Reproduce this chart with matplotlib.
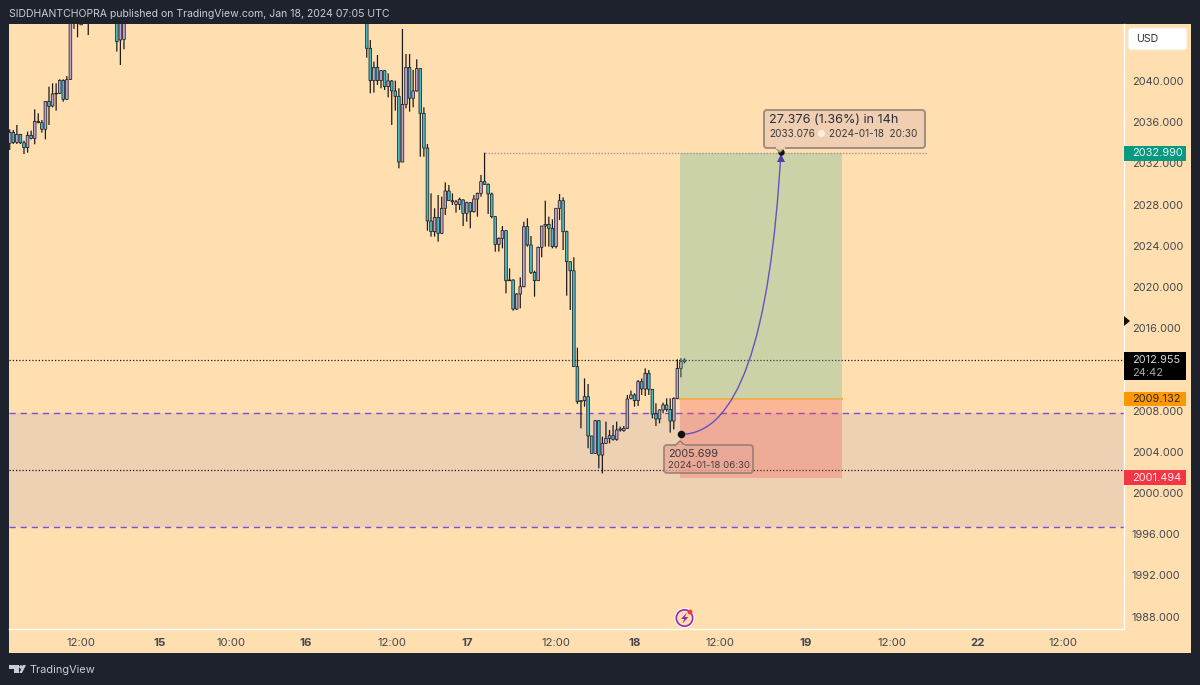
"""Gold 30 minute chart with trade idea, TradingView snapshot style."""

import matplotlib
matplotlib.use("Agg")
import matplotlib.pyplot as plt
from matplotlib.patches import Rectangle, FancyBboxPatch, Polygon, PathPatch, Circle
from matplotlib.path import Path

plt.rcParams["font.family"] = ["Inter", "DejaVu Sans"]

W, H = 1200, 685
PANEL = "#FFDFB0"
DARK = "#1E222D"
TEXT = "#434651"
UP = "#BBA3D6"
DOWN = "#45BCCB"

# candles, bars 33 to 99 are above the visible range so they are left out
bar_index = list(range(0, 21)) + [22, 30, 31, 32] + list(range(100, 190))

opens = [
    2033.95, 2035.01, 2034.04, 2034.82, 2034.00, 2033.53, 2034.72, 2034.43, 2035.95, 2035.95,
    2035.31, 2038.02, 2037.57, 2038.74, 2038.80, 2040.06, 2038.22, 2040.16, 2047.00, 2047.00,
    2046.00, 2047.00, 2047.00, 2043.98, 2044.04,
    2047.00, 2043.17, 2040.03, 2041.32, 2040.03, 2041.00, 2039.45, 2040.00, 2039.03, 2038.51,
    2032.13, 2037.73, 2041.32, 2038.32, 2039.03, 2041.20, 2036.86, 2033.49, 2026.41, 2025.37,
    2026.76, 2025.21, 2027.64, 2029.32, 2028.38, 2028.02, 2028.02, 2028.45, 2027.15, 2028.19,
    2027.31, 2028.54, 2029.09, 2030.23, 2029.97, 2029.03, 2026.83, 2024.14, 2024.72, 2025.47,
    2020.61, 2020.68, 2017.86, 2019.32, 2020.03, 2025.86, 2024.08, 2021.42, 2020.61, 2023.85,
    2025.92, 2026.08, 2025.70, 2023.92, 2027.64, 2028.38, 2025.37, 2022.46, 2021.58, 2012.27,
    2008.87, 2008.97, 2009.35, 2005.54, 2003.85, 2007.02, 2003.69, 2004.82, 2005.31, 2005.57,
    2005.21, 2006.12, 2006.05, 2006.28, 2009.19, 2009.52, 2008.97, 2010.81, 2010.10, 2011.62,
    2010.07, 2007.67, 2007.19, 2008.06, 2008.55, 2008.12, 2006.99, 2009.19, 2012.10, 2012.75,
]
highs = [
    2035.30, 2035.24, 2035.73, 2034.82, 2034.20, 2035.08, 2035.18, 2037.25, 2036.86, 2036.21,
    2038.02, 2039.45, 2039.77, 2039.77, 2040.16, 2040.16, 2040.48, 2048.00, 2048.00, 2047.00,
    2047.00, 2048.00, 2048.00, 2047.00, 2047.00,
    2048.00, 2043.98, 2041.88, 2042.52, 2041.07, 2041.07, 2040.74, 2040.09, 2040.03, 2039.29,
    2045.05, 2042.62, 2042.62, 2041.07, 2042.10, 2041.20, 2037.44, 2033.88, 2029.09, 2027.64,
    2028.93, 2028.77, 2030.16, 2029.90, 2029.09, 2028.45, 2028.67, 2028.51, 2028.28, 2028.19,
    2028.93, 2029.16, 2030.87, 2033.04, 2030.06, 2029.16, 2026.83, 2024.82, 2025.92, 2025.53,
    2021.81, 2020.74, 2019.39, 2020.94, 2026.34, 2026.67, 2024.95, 2021.58, 2023.92, 2025.92,
    2028.38, 2026.83, 2026.57, 2027.64, 2029.03, 2028.70, 2025.47, 2022.46, 2022.88, 2014.11,
    2009.00, 2011.13, 2010.58, 2005.54, 2007.09, 2007.09, 2005.47, 2006.93, 2006.12, 2006.60,
    2006.93, 2006.44, 2006.51, 2009.52, 2009.94, 2009.68, 2010.97, 2011.13, 2012.10, 2011.94,
    2010.07, 2008.71, 2008.12, 2008.77, 2009.19, 2009.19, 2009.29, 2012.98, 2013.08, 2013.08,
]
lows = [
    2033.30, 2033.88, 2033.88, 2033.88, 2032.91, 2033.04, 2034.33, 2033.85, 2035.89, 2034.98,
    2034.33, 2035.73, 2037.44, 2037.12, 2038.74, 2037.99, 2038.15, 2040.10, 2045.05, 2044.24,
    2045.43, 2044.46, 2042.85, 2041.55, 2043.07,
    2042.26, 2038.80, 2038.87, 2039.61, 2039.29, 2039.12, 2038.41, 2035.73, 2037.12, 2031.52,
    2032.13, 2037.34, 2037.02, 2037.44, 2038.96, 2032.65, 2032.65, 2025.47, 2024.89, 2024.89,
    2024.40, 2025.15, 2026.99, 2028.38, 2027.96, 2027.22, 2027.48, 2025.92, 2026.34, 2025.70,
    2027.22, 2026.83, 2028.77, 2029.90, 2027.09, 2026.67, 2023.43, 2023.43, 2023.75, 2019.39,
    2020.61, 2017.70, 2017.77, 2017.93, 2019.97, 2023.92, 2021.26, 2019.06, 2020.61, 2022.88,
    2023.92, 2023.92, 2023.75, 2023.75, 2026.50, 2023.59, 2019.16, 2017.77, 2012.27, 2008.64,
    2006.28, 2008.38, 2004.34, 2003.85, 2003.79, 2002.40, 2001.91, 2004.76, 2004.82, 2005.08,
    2005.08, 2005.96, 2005.96, 2006.22, 2009.09, 2008.38, 2008.45, 2009.52, 2009.42, 2009.52,
    2007.25, 2006.51, 2006.77, 2007.74, 2007.90, 2005.86, 2006.18, 2009.10, 2011.23, 2012.59,
]
closes = [
    2035.01, 2034.04, 2034.82, 2034.00, 2033.53, 2034.72, 2034.43, 2036.08, 2036.08, 2035.31,
    2038.02, 2037.54, 2038.74, 2038.80, 2040.06, 2038.22, 2040.13, 2047.00, 2046.80, 2046.50,
    2045.45, 2046.50, 2043.82, 2046.00, 2046.00,
    2043.17, 2040.03, 2041.32, 2040.03, 2041.00, 2039.45, 2040.00, 2039.03, 2038.51, 2032.13,
    2037.73, 2041.32, 2038.32, 2039.03, 2041.20, 2036.86, 2033.49, 2026.41, 2025.37, 2026.76,
    2025.21, 2027.64, 2029.32, 2028.38, 2028.28, 2028.28, 2028.51, 2027.15, 2028.19, 2027.31,
    2028.54, 2029.09, 2030.23, 2029.97, 2029.03, 2026.83, 2024.14, 2024.72, 2025.47, 2020.61,
    2020.68, 2017.86, 2019.32, 2020.03, 2025.86, 2024.08, 2021.42, 2020.61, 2023.85, 2025.92,
    2026.08, 2025.70, 2023.92, 2027.64, 2028.38, 2025.37, 2022.46, 2021.58, 2012.27, 2008.87,
    2008.97, 2009.35, 2005.54, 2003.85, 2007.02, 2003.69, 2004.82, 2005.31, 2005.57, 2005.21,
    2006.12, 2006.22, 2006.28, 2009.13, 2009.52, 2008.97, 2010.81, 2010.10, 2011.62, 2010.07,
    2007.67, 2007.19, 2008.06, 2008.55, 2008.12, 2006.99, 2009.19, 2012.10, 2012.75, 2012.91,
]

price_ticks = [1988, 1992, 1996, 2000, 2004, 2008, 2012, 2016, 2020, 2024, 2028, 2032, 2036, 2040]
time_bars = [20, 42, 62, 83, 107, 128, 153, 175, 199, 223, 247, 271, 295]
time_labels = ["12:00", "15", "10:00", "16", "12:00", "17", "12:00", "18", "12:00", "19", "12:00", "22", "12:00"]
day_labels = ["15", "16", "17", "18", "19", "22"]

# levels and the trade box
last_price = 2012.955
take_profit = 2032.990
entry = 2009.132
stop_loss = 2001.494
zone_top = 2007.80
zone_bottom = 1996.70
support_level = 2002.25
swing_high = 2033.04
box_start, box_end = 187.8, 233.1
swing_bar, swing_line_end = 133, 257.3

# projected path
path_bars = [188, 211.6, 216]
path_prices = [2005.699, 2005.70, 2033.076]

fig = plt.figure(figsize=(W / 100, H / 100), dpi=100, facecolor=DARK)

# scale and time strip background, the chart axes draw over it
fig.patches.append(Rectangle((9 / W, 1 - 653 / H), 1182 / W, 629 / H, transform=fig.transFigure,
                             facecolor=PANEL, edgecolor="none", zorder=-1))

ax = fig.add_axes([9 / W, 1 - 629 / H, 1115 / W, 605 / H], facecolor=PANEL)
ax.set_xlim(-0.2, 312.1)
ax.set_ylim(1986.80, 2045.53)

for side in ("top", "left"):
    ax.spines[side].set_visible(False)
for side in ("right", "bottom"):
    ax.spines[side].set_color("white")
    ax.spines[side].set_linewidth(1)

# zone and levels sit under the candles
ax.axhspan(zone_bottom, zone_top, color="#AA94C4", alpha=0.2, lw=0, zorder=1)
for level in (zone_top, zone_bottom):
    ax.axhline(level, color="#7B4FD8", lw=1, dashes=(4.5, 3.5), zorder=1.5)
for level in (last_price, support_level):
    ax.axhline(level, color="#1a1a1a", lw=0.9, dashes=(1, 1.6), zorder=1.5)
ax.plot([swing_bar, swing_line_end], [swing_high, swing_high], color="#BE85A8", lw=1.0,
        dashes=(1, 1.2), zorder=1.5)

# candles
wick_lines = ax.vlines(bar_index, lows, highs, color="#1c1c1c", lw=0.9, zorder=2)
wick_lines.set_snap(False)
bottoms = [min(o, c) for o, c in zip(opens, closes)]
heights = [abs(o - c) for o, c in zip(opens, closes)]
colours = [UP if c >= o else DOWN for o, c in zip(opens, closes)]
bodies = ax.bar(bar_index, heights, bottom=bottoms, width=0.74, color=colours,
                edgecolor="#1c1c1c", linewidth=0.55, zorder=3)
for body in bodies:
    body.set_snap(False)

# trade box goes over the candles
ax.add_patch(Rectangle((box_start, entry), box_end - box_start, take_profit - entry,
                       facecolor="#58B495", alpha=0.3, lw=0, zorder=4))
ax.add_patch(Rectangle((box_start, stop_loss), box_end - box_start, entry - stop_loss,
                       facecolor="#EE4D50", alpha=0.28, lw=0, zorder=4))
ax.plot([box_start, box_end], [entry, entry], color="#F0B050", lw=1.4, zorder=4.2)

curve = Path(list(zip(path_bars, path_prices)), [Path.MOVETO, Path.CURVE3, Path.CURVE3])
ax.add_patch(PathPatch(curve, facecolor="none", edgecolor="#6A4FC0", lw=1.0, zorder=5))
ax.plot(path_bars[0], path_prices[0], "o", color="#111111", ms=4.4, zorder=6)
ax.plot(path_bars[2], path_prices[2] - 0.55, "^", color="#4A3FB0", ms=5.5, mew=0, zorder=6)
ax.plot(path_bars[2], path_prices[2], "o", color="#111111", ms=3.6, zorder=6.5)

# axes ticks
ax.yaxis.tick_right()
ax.set_yticks(price_ticks)
ax.set_yticklabels([f"{p:.3f}" for p in price_ticks], fontsize=7.9, color=TEXT)
ax.tick_params(axis="y", length=0, pad=5.5)
ax.set_xticks(time_bars)
ax.set_xticklabels(time_labels, fontsize=8.2, color=TEXT)
ax.tick_params(axis="x", length=0, pad=6.5)
for label in ax.get_xticklabels():
    if label.get_text() in day_labels:
        label.set_fontweight("bold")
# the black badge covers this one in the original
for label in ax.get_yticklabels():
    if label.get_text() == "2012.000":
        label.set_visible(False)

# price badges on the scale
trans = ax.get_yaxis_transform()
badge_w = 62 / 1115
for price, colour, text_colour in [(take_profit, "#089981", "#E8F5F2"), (entry, "#FF9800", "#2A2A2A"),
                                   (stop_loss, "#F23645", "#FFECEE")]:
    ax.add_patch(Rectangle((1.0, price - 0.72), badge_w, 1.44, transform=trans, facecolor=colour,
                           edgecolor="none", clip_on=False, zorder=10))
    ax.text(1 + 8 / 1115, price, f"{price:.3f}", transform=trans, color=text_colour, fontsize=7.9,
            va="center", ha="left", zorder=11)
ax.add_patch(Rectangle((1.0, last_price - 2.03), badge_w, 2.72, transform=trans, facecolor="black",
                       edgecolor="none", clip_on=False, zorder=10))
ax.text(1 + 8 / 1115, last_price, f"{last_price:.3f}", transform=trans, color="#D8D8D8", fontsize=7.9,
        va="center", ha="left", zorder=11)
ax.text(1 + 8 / 1115, last_price - 1.27, "24:42", transform=trans, color="#A8A8A8", fontsize=7.9,
        va="center", ha="left", zorder=11)

# everything else is window furniture, placed in pixels
over = fig.add_axes([0, 0, 1, 1], facecolor="none")
over.set_xlim(0, W)
over.set_ylim(H, 0)
over.axis("off")

over.text(9, 14, "SIDDHANTCHOPRA published on TradingView.com, Jan 18, 2024 07:05 UTC",
          color="#C9CCD3", fontsize=7.55, va="center", ha="left")

# USD button
over.add_patch(FancyBboxPatch((1128, 28), 59, 22, boxstyle="round,pad=0,rounding_size=3",
                              facecolor="white", edgecolor="#F5E8D5", lw=0.8))
over.text(1136, 39, "USD", color="#2A2E39", fontsize=7.6, va="center", ha="left")

# last price arrow on the scale edge
over.add_patch(Polygon([(1124, 316), (1124, 326), (1130, 321)], closed=True, facecolor="#111111", lw=0))

# tooltips
tip_face = "#EFCEB2"
tip_edge = "#A08E7E"
over.add_patch(FancyBboxPatch((764, 110), 161, 38, boxstyle="round,pad=0,rounding_size=3",
                              facecolor=tip_face, edgecolor=tip_edge, lw=1.4, zorder=3))
over.add_patch(Polygon([(775, 147.5), (785, 147.5), (780, 152)], closed=True, facecolor=tip_face,
                       edgecolor=tip_edge, lw=1.0, zorder=3))
over.add_patch(Rectangle((775.5, 146), 9, 2.5, facecolor=tip_face, lw=0, zorder=3.5))
over.text(769, 120, "27.376 (1.36%) in 14h", color="#2A2E39", fontsize=9.1, va="center", ha="left", zorder=4)
over.text(769, 133.5, "2033.076", color="#3A3A3A", fontsize=7.2, va="center", ha="left", zorder=4)
over.add_patch(Circle((821.5, 133.5), 3.6, facecolor="#FBEDE2", lw=0, zorder=4))
over.text(829, 133.5, "2024-01-18  20:30", color="#3A3A3A", fontsize=7.2, va="center", ha="left", zorder=4)

over.add_patch(FancyBboxPatch((664, 445), 89, 28, boxstyle="round,pad=0,rounding_size=3",
                              facecolor="#E8A898", edgecolor="#8E7A70", alpha=0.75, lw=1.4, zorder=3))
over.add_patch(Polygon([(675, 445.5), (685, 445.5), (680, 441)], closed=True, facecolor="#E8B09C",
                       edgecolor="#8E7A70", lw=1.0, zorder=3))
over.add_patch(Rectangle((675.5, 444.5), 9, 2.5, facecolor="#E8B09C", lw=0, zorder=3.5))
over.text(668, 453.5, "2005.699", color="#3A3A3A", fontsize=7.8, va="center", ha="left", zorder=4)
over.text(668, 465, "2024-01-18 06:30", color="#4A3A3A", fontsize=6.9, va="center", ha="left", zorder=4)

# news icon
over.add_patch(Circle((684.5, 618), 10, facecolor="white", lw=0))
over.add_patch(Circle((684.5, 618), 8.2, facecolor=PANEL, edgecolor="#9C27B0", lw=1.2))
over.add_patch(Polygon([(687, 612.5), (681, 619), (684.3, 619), (682.5, 623.5), (688.5, 617),
                        (685, 617)], closed=True, facecolor="#9C27B0", lw=0))
over.add_patch(Circle((690, 612), 2.4, facecolor="#F23645", lw=0))

# TradingView mark and name
logo = "#C9CCD3"
over.add_patch(Polygon([(9, 665), (18.5, 665), (18.5, 673), (14, 673), (14, 668.5), (9, 668.5)],
                       closed=True, facecolor=logo, lw=0))
over.add_patch(Circle((21, 667), 1.8, facecolor=logo, lw=0))
over.add_patch(Polygon([(22, 673), (19.3, 673), (23, 665), (26, 665)], closed=True, facecolor=logo, lw=0))
over.text(30, 670, "TradingView", color="#C9CCD3", fontsize=7.9, va="center", ha="left")

fig.savefig("out.png", dpi=100, facecolor=DARK)
